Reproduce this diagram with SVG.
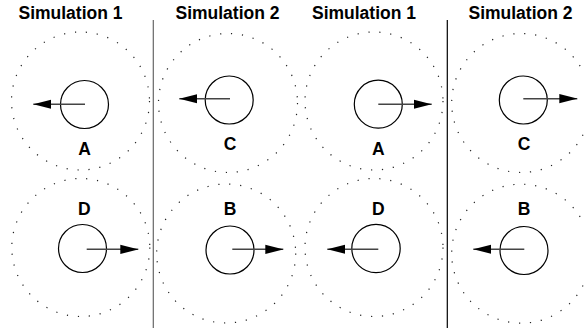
<svg xmlns="http://www.w3.org/2000/svg" width="584" height="328" viewBox="0 0 584 328">
  <style>
    .title { font-family: "Liberation Sans", Arial, sans-serif; font-weight: bold; font-size: 17.5px; fill: #000; text-anchor: middle; }
    .label { font-family: "Liberation Sans", Arial, sans-serif; font-weight: bold; font-size: 17.5px; fill: #000; text-anchor: middle; }
    .range { fill: none; stroke: #222; stroke-width: 1.2; stroke-dasharray: 1.2 9.8; }
    .body { fill: none; stroke: #000; stroke-width: 1.2; }
    .move { stroke: #444; stroke-width: 1.5; fill: none; marker-end: url(#head); }
    .divider { stroke-width: 1.2; }
  </style>
  <defs>
    <marker id="head" markerUnits="userSpaceOnUse" viewBox="0 -5 18 10" markerWidth="18" markerHeight="10" refX="18" refY="0" orient="auto">
      <path d="M0,-4.6 L18,0 L0,4.6 Z" fill="#000"/>
    </marker>
  </defs>

  <!-- column headings -->
  <g id="headings">
    <text class="title" x="70.5" y="19">Simulation 1</text>
    <text class="title" x="227.5" y="19">Simulation 2</text>
    <text class="title" x="364" y="19">Simulation 1</text>
    <text class="title" x="520.5" y="19">Simulation 2</text>
  </g>

  <!-- separators -->
  <g id="separators">
    <line class="divider" x1="153.3" y1="20" x2="153.3" y2="328" stroke="#666"/>
    <line class="divider" x1="447.3" y1="20" x2="447.3" y2="328" stroke="#000"/>
  </g>

  <!-- agents: sensing range, body, label -->
  <g id="agent-A1">
    <circle class="range" cx="80.5" cy="101" r="69"/>
    <circle class="body" cx="84.5" cy="104.5" r="24"/>
    <text class="label" x="84.5" y="155">A</text>
  </g>
  <g id="agent-D1">
    <circle class="range" cx="80.8" cy="247.5" r="69"/>
    <circle class="body" cx="82.5" cy="248.5" r="24"/>
    <text class="label" x="84.3" y="215">D</text>
  </g>
  <g id="agent-C2">
    <circle class="range" cx="228" cy="103" r="69.5"/>
    <circle class="body" cx="229.2" cy="100" r="24"/>
    <text class="label" x="230" y="150">C</text>
  </g>
  <g id="agent-B2">
    <circle class="range" cx="226.2" cy="253.5" r="69.5"/>
    <circle class="body" cx="230" cy="250" r="24"/>
    <text class="label" x="230" y="215">B</text>
  </g>
  <g id="agent-A3">
    <circle class="range" cx="374" cy="101" r="69"/>
    <circle class="body" cx="378.3" cy="104.2" r="24"/>
    <text class="label" x="378.3" y="155">A</text>
  </g>
  <g id="agent-D3">
    <circle class="range" cx="374" cy="247.5" r="69"/>
    <circle class="body" cx="376" cy="248.5" r="24.2"/>
    <text class="label" x="378.3" y="215">D</text>
  </g>
  <g id="agent-C4">
    <circle class="range" cx="521.2" cy="103" r="69.5"/>
    <circle class="body" cx="523.3" cy="100" r="24"/>
    <text class="label" x="524" y="150">C</text>
  </g>
  <g id="agent-B4">
    <circle class="range" cx="521.2" cy="253.7" r="69.5"/>
    <circle class="body" cx="524" cy="250.5" r="24"/>
    <text class="label" x="524" y="215">B</text>
  </g>

  <!-- heading arrows -->
  <g id="connectors">
    <line class="move" x1="85" y1="104.3" x2="33.3" y2="104.3"/>
    <line class="move" x1="86.7" y1="249.3" x2="138.3" y2="249.3"/>
    <line class="move" x1="230" y1="98.7" x2="179.3" y2="98.7"/>
    <line class="move" x1="232.3" y1="249.3" x2="283.3" y2="249.3"/>
    <line class="move" x1="378.3" y1="104.3" x2="431.7" y2="104.3"/>
    <line class="move" x1="378.3" y1="249.3" x2="327.3" y2="249.3"/>
    <line class="move" x1="523.3" y1="98.7" x2="577.3" y2="98.7"/>
    <line class="move" x1="524.3" y1="249.3" x2="473.3" y2="249.3"/>
  </g>
</svg>
